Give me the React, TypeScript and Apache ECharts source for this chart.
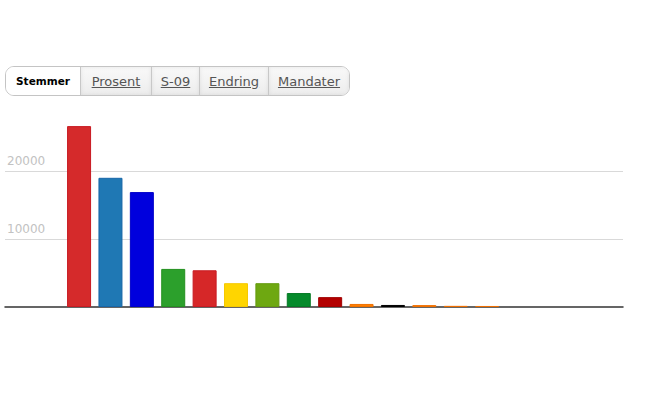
import React, { useEffect, useRef } from 'react';
import * as echarts from 'echarts';

// partier (vises ikke som etiketter, men styrer rekkefølgen)
const parties = ['Ap', 'H', 'FrP', 'Sp', 'SV', 'KrF', 'V', 'MDG', 'R', 'PP', 'DEM', 'KSP', 'Kp', 'Andre'];
const votes = [26600, 19000, 16900, 5600, 5400, 3500, 3500, 2050, 1450, 450, 300, 280, 170, 150];
const colors = [
  '#d52a2b', '#1f78b4', '#0000dd', '#2ca02c', '#d62728', '#ffd500', '#6ea811',
  '#058a2b', '#b30000', '#ff7f00', '#000000', '#ff7f00', '#ff7f00', '#ff7f00',
];
const borders = [
  '#c81a22', '#1766a8', '#0000c8', '#23901f', '#c81a22', '#f5c800', '#649a0e',
  '#047824', '#a00000', '#f07000', '#000000', '#f07000', '#f07000', '#f07000',
];
const yTicks = [0, 10000, 20000, 30000];
const tabs = ['Stemmer', 'Prosent', 'S-09', 'Endring', 'Mandater'];
const tabWidths = [75, 71, 48, 69, 81];

const Tabs: React.FC = () => (
  <div
    style={{
      position: 'absolute',
      left: 5,
      top: 66,
      height: 28,
      display: 'flex',
      border: '1px solid #c4c4c4',
      borderRadius: 9,
      overflow: 'hidden',
      fontFamily: '"DejaVu Sans", sans-serif',
      fontSize: 13,
    }}
  >
    {tabs.map((t, i) => (
      <div
        key={t}
        style={{
          width: tabWidths[i] - 1,
          borderLeft: i === 0 ? 'none' : '1px solid #c8c8c8',
          display: 'flex',
          alignItems: 'center',
          justifyContent: 'center',
          background: i === 0 ? '#ffffff' : 'linear-gradient(#f9f9f9, #ededed)',
          boxShadow: i === 0 ? 'none' : 'inset 0 0 4px rgba(0,0,0,0.08)',
          color: i === 0 ? '#000' : '#555',
          fontWeight: i === 0 ? 'bold' : 'normal',
          fontSize: i === 0 ? 10.5 : 13,
          textDecoration: i === 0 ? 'none' : 'underline',
        }}
      >
        {t}
      </div>
    ))}
  </div>
);

const App: React.FC = () => {
  const chartRef = useRef<HTMLDivElement>(null);

  useEffect(() => {
    if (!chartRef.current) return;
    const chart = echarts.init(chartRef.current, undefined, { renderer: 'svg' });

    const option = {
      animation: false,
      grid: { left: 5, right: 25, top: 103, bottom: 105, containLabel: false },
      xAxis: {
        type: 'value',
        min: -2.36,
        max: 17.33,
        axisLine: { show: true, lineStyle: { color: '#333', width: 1.5 } },
        axisTick: { show: false },
        axisLabel: { show: false },
        splitLine: { show: false },
      },
      yAxis: {
        type: 'value',
        min: yTicks[0],
        max: yTicks[yTicks.length - 1],
        interval: 10000,
        axisLine: { show: false },
        axisTick: { show: false },
        axisLabel: {
          inside: true,
          margin: 2,
          showMinLabel: false,
          showMaxLabel: false,
          color: '#c2c2c2',
          fontSize: 12,
          fontFamily: 'DejaVu Sans',
          verticalAlign: 'bottom',
          padding: [0, 0, 4, 0],
          formatter: (v: number) => String(v),
        },
        splitLine: {
          show: true,
          showMinLine: false,
          showMaxLine: false,
          lineStyle: { color: '#d9d9d9', width: 1 },
        },
      },
      series: [
        {
          type: 'bar',
          barWidth: 24,
          data: votes.map((v, i) => ({
            name: parties[i],
            value: [i, v],
            itemStyle: { color: colors[i], borderColor: borders[i], borderWidth: 1 },
          })),
        },
      ],
    };

    chart.setOption(option);
    return () => chart.dispose();
  }, []);

  return (
    <div style={{ position: 'absolute', left: 0, top: 0, width: 648, height: 412, background: '#fff' }}>
      <div ref={chartRef} style={{ position: 'absolute', left: 0, top: 0, width: 648, height: 412 }} />
      <Tabs />
    </div>
  );
};

export default App;
